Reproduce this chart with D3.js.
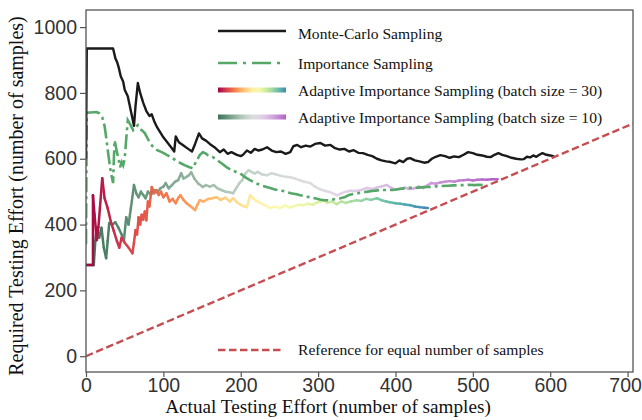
<!DOCTYPE html>
<html><head><meta charset="utf-8">
<script src="https://cdn.jsdelivr.net/npm/d3@7"></script>
<style>body{margin:0;background:#fff}</style>
</head><body>
<svg id="c" width="642" height="420"></svg>
<script>
// ---- data ----
const mcX = [0,1,35,38,40,42,45,48,50,54,58,62,64,67,70,74,78,82,85,88,92,96,100,105,110,114,116,120,126,132,137,141,146,150,155,160,166,173,178,183,188,195,200,203,208,213,218,223,228,234,240,246,252,258,264,268,273,278,284,290,296,303,309,316,322,328,334,340,346,352,358,364,370,376,382,388,394,400,405,410,415,419,425,431,437,442,447,452,458,464,470,476,482,488,494,500,506,512,518,523,528,533,538,544,550,556,562,566,570,574,578,582,586,590,595,600,605];
const mcY = [600,935,935,905,895,880,850,835,810,790,745,700,760,830,800,770,745,730,735,715,695,680,665,650,635,622,668,650,640,630,622,645,677,662,655,645,635,620,628,615,620,612,608,612,625,618,630,625,628,635,625,620,622,615,620,638,642,635,640,637,645,648,640,642,632,628,630,622,626,618,617,612,608,600,595,592,590,586,595,590,600,602,595,592,588,590,600,606,611,608,603,607,605,612,620,617,612,610,606,605,612,617,612,608,603,600,598,599,606,604,610,606,612,617,612,610,607];

const isX = [0,1,14,17,21,24,26,29,32,35,36,37,40,42,44,46,48,50,52,54,57,61,64,67,70,73,76,80,83,87,92,98,105,110,116,122,128,133,138,142,147,151,154,158,164,170,176,182,188,194,199,205,212,220,228,238,245,251,258,265,272,277,284,290,296,302,308,316,322,329,335,340,345,350,357,364,370,377,383,390,397,404,411,418,425,432,438,445,452,460,468,475,482,488,495,502,508,514];
const isY = [340,740,742,738,726,700,666,610,560,526,600,656,620,600,574,590,580,600,660,717,705,687,695,702,690,685,678,660,647,635,626,620,611,605,595,587,580,575,571,590,611,620,617,610,605,595,585,574,566,560,556,545,535,525,518,511,506,505,500,495,492,489,485,483,480,476,474,474,478,480,484,490,493,495,497,500,502,504,505,505,505,508,510,512,511,513,514,514,516,517,518,519,520,520,521,520,521,520];

const a30X = [0,9,9,11,14,16,18,21,24,28,32,36,40,43,46,50,55,60,62,64,66,68,70,72,74,76,78,80,82,85,88,91,94,97,100,104,108,112,116,119,122,126,130,134,138,141,144,147,152,158,163,169,174,180,186,190,195,200,204,208,212,216,220,226,232,238,244,251,257,263,269,275,281,287,293,299,304,307,312,318,324,330,336,342,350,356,362,368,376,382,388,393,400,406,412,419,425,431,437,442];
const a30Y = [277,277,489,430,353,392,450,541,480,450,410,380,350,330,360,345,330,313,345,383,370,422,400,430,415,440,413,470,455,514,495,505,490,500,483,495,470,478,465,480,489,475,465,458,450,444,460,474,470,478,480,483,475,482,470,480,468,460,455,453,489,480,472,465,458,450,455,450,458,452,456,460,459,463,460,468,470,474,466,470,462,470,466,470,474,472,478,475,480,474,470,468,465,463,461,459,455,453,451,450];

const a10X = [0,10,12,14,17,20,23,26,28,30,34,38,42,46,49,52,55,58,62,65,68,71,74,77,80,84,88,92,96,100,103,107,111,115,119,123,126,130,133,136,140,145,151,155,160,165,170,175,180,186,190,194,198,202,206,210,214,218,222,228,234,240,246,252,258,264,270,276,282,290,296,302,308,316,322,325,330,336,342,348,356,363,370,376,382,389,394,400,406,412,418,424,430,436,442,446,452,458,464,470,476,482,488,494,500,506,512,518,524,532];
const a10Y = [277,277,350,392,360,390,330,298,350,404,400,407,390,370,353,422,400,450,520,495,483,500,490,480,500,490,505,497,510,515,526,510,520,530,535,556,540,545,550,559,540,525,514,520,515,520,510,505,500,498,495,510,525,535,555,565,560,555,560,552,550,556,552,548,545,544,540,535,530,526,515,508,503,498,492,489,495,500,503,502,505,511,508,512,516,520,512,506,508,512,508,510,515,511,520,526,524,528,530,532,530,534,535,536,534,536,537,536,538,538];

const refX = [0, 707];
const xTicks = [0,100,200,300,400,500,600,700];
const yTicks = [0,200,400,600,800,1000];
const legendLabels = ["Monte-Carlo Sampling","Importance Sampling","Adaptive Importance Sampling (batch size = 30)","Adaptive Importance Sampling (batch size = 10)"];
const refLabel = "Reference for equal number of samples";
const xTitle = "Actual Testing Effort (number of samples)";
const yTitle = "Required Testing Effort (number of samples)";

// ---- layout ----
const L=86,R=633,T=10,B=372;
const svg = d3.select("#c");
const x = d3.scaleLinear().domain([0,707]).range([L,R]);
const y = d3.scaleLinear().domain([-48,1052]).range([B,T]);
const serif = "'Liberation Serif','Times New Roman',serif";

const spectral = t => d3.interpolateSpectral(t*0.9);
const prgn = d3.interpolateRgbBasis(["#3b7256","#8fb39c","#e9ede9","#dcbfe4","#b35fc4"]);

const defs = svg.append("defs");
defs.append("clipPath").attr("id","pc").append("rect")
  .attr("x",L).attr("y",T).attr("width",R-L).attr("height",B-T);
const g = svg.append("g").attr("clip-path","url(#pc)");

function gradLine(xs, ys, cmap, w){
  const n = xs.length, xmax = d3.max(xs);
  for(let i=0;i<n-1;i++){
    const t = ((xs[i]+xs[i+1])/2)/xmax;
    g.append("line").attr("x1",x(xs[i])).attr("y1",y(ys[i]))
      .attr("x2",x(xs[i+1])).attr("y2",y(ys[i+1]))
      .attr("stroke",cmap(t)).attr("stroke-width",w).attr("stroke-linecap","round");
  }
}
gradLine(a10X,a10Y,prgn,2.5);
gradLine(a30X,a30Y,spectral,2.5);

const line = d3.line().x(d=>x(d[0])).y(d=>y(d[1]));
g.append("path").datum(isX.map((v,i)=>[v,isY[i]])).attr("d",line)
  .attr("fill","none").attr("stroke","#55a868").attr("stroke-width",2.6)
  .attr("stroke-dasharray","15,4,3,4");
g.append("path").datum(mcX.map((v,i)=>[v,mcY[i]])).attr("d",line)
  .attr("fill","none").attr("stroke","#1a1a1a").attr("stroke-width",2.4).attr("stroke-linejoin","round");
g.append("path").datum(refX.map(v=>[v,v])).attr("d",line)
  .attr("fill","none").attr("stroke","#c44e52").attr("stroke-width",2.4)
  .attr("stroke-dasharray","7.5,3.5");

// frame
svg.append("rect").attr("x",L).attr("y",T).attr("width",R-L).attr("height",B-T)
  .attr("fill","none").attr("stroke","#555").attr("stroke-width",1.3);

// axes
const fmt = d3.format("d");
const xa = svg.append("g").attr("transform",`translate(0,${B})`)
  .call(d3.axisBottom(x).tickValues(xTicks).tickFormat(fmt).tickSize(5).tickPadding(1.5));
const ya = svg.append("g").attr("transform",`translate(${L},0)`)
  .call(d3.axisLeft(y).tickValues(yTicks).tickFormat(fmt).tickSize(6).tickPadding(3));
[xa,ya].forEach(a=>{
  a.select(".domain").remove();
  a.selectAll(".tick line").attr("stroke","#555").attr("stroke-width",1.2);
  a.selectAll(".tick text").attr("fill","#333").style("font-family","'Liberation Sans',Arial,sans-serif").style("font-size","19.5px");
});
xa.selectAll(".tick text").filter(d=>d===700).attr("dx",-2.5);

svg.append("text").attr("x",328).attr("y",413).attr("text-anchor","middle")
  .style("font-family",serif).style("font-size","19.2px").attr("fill","#111").text(xTitle);
svg.append("text").attr("transform",`translate(23,196) rotate(-90)`).attr("text-anchor","middle")
  .style("font-family",serif).style("font-size","20px").attr("fill","#111").text(yTitle);

// legend
function lg(id, cmap){
  const gr = defs.append("linearGradient").attr("id",id);
  d3.range(0,1.0001,0.1).forEach(t=>gr.append("stop").attr("offset",t).attr("stop-color",cmap(t)));
}
lg("g30",spectral); lg("g10",prgn);
const lx1=218,lx2=286,tx=298;
const ly=[31,63,90,117];
const leg = svg.append("g");
leg.append("line").attr("x1",lx1).attr("x2",lx2).attr("y1",ly[0]).attr("y2",ly[0]).attr("stroke","#1a1a1a").attr("stroke-width",2.6);
leg.append("line").attr("x1",lx1).attr("x2",lx2).attr("y1",ly[1]).attr("y2",ly[1]).attr("stroke","#55a868").attr("stroke-width",2.6).attr("stroke-dasharray","19,6,3,6");
leg.append("rect").attr("x",lx1).attr("width",lx2-lx1).attr("y",ly[2]-2.5).attr("height",5).attr("fill","url(#g30)");
leg.append("rect").attr("x",lx1).attr("width",lx2-lx1).attr("y",ly[3]-2.5).attr("height",5).attr("fill","url(#g10)");
const tb=[39,69,96,123];
legendLabels.forEach((t,i)=>{
  leg.append("text").attr("x",tx).attr("y",tb[i]).text(t)
   .style("font-family",serif).style("font-size","15.6px").attr("fill","#111");
});
leg.append("line").attr("x1",lx1).attr("x2",lx2-4).attr("y1",350).attr("y2",350).attr("stroke","#c44e52").attr("stroke-width",2.4).attr("stroke-dasharray","7.5,3.5");
leg.append("text").attr("x",tx).attr("y",355).text(refLabel)
  .style("font-family",serif).style("font-size","15.6px").attr("fill","#111");
</script>
</body></html>
